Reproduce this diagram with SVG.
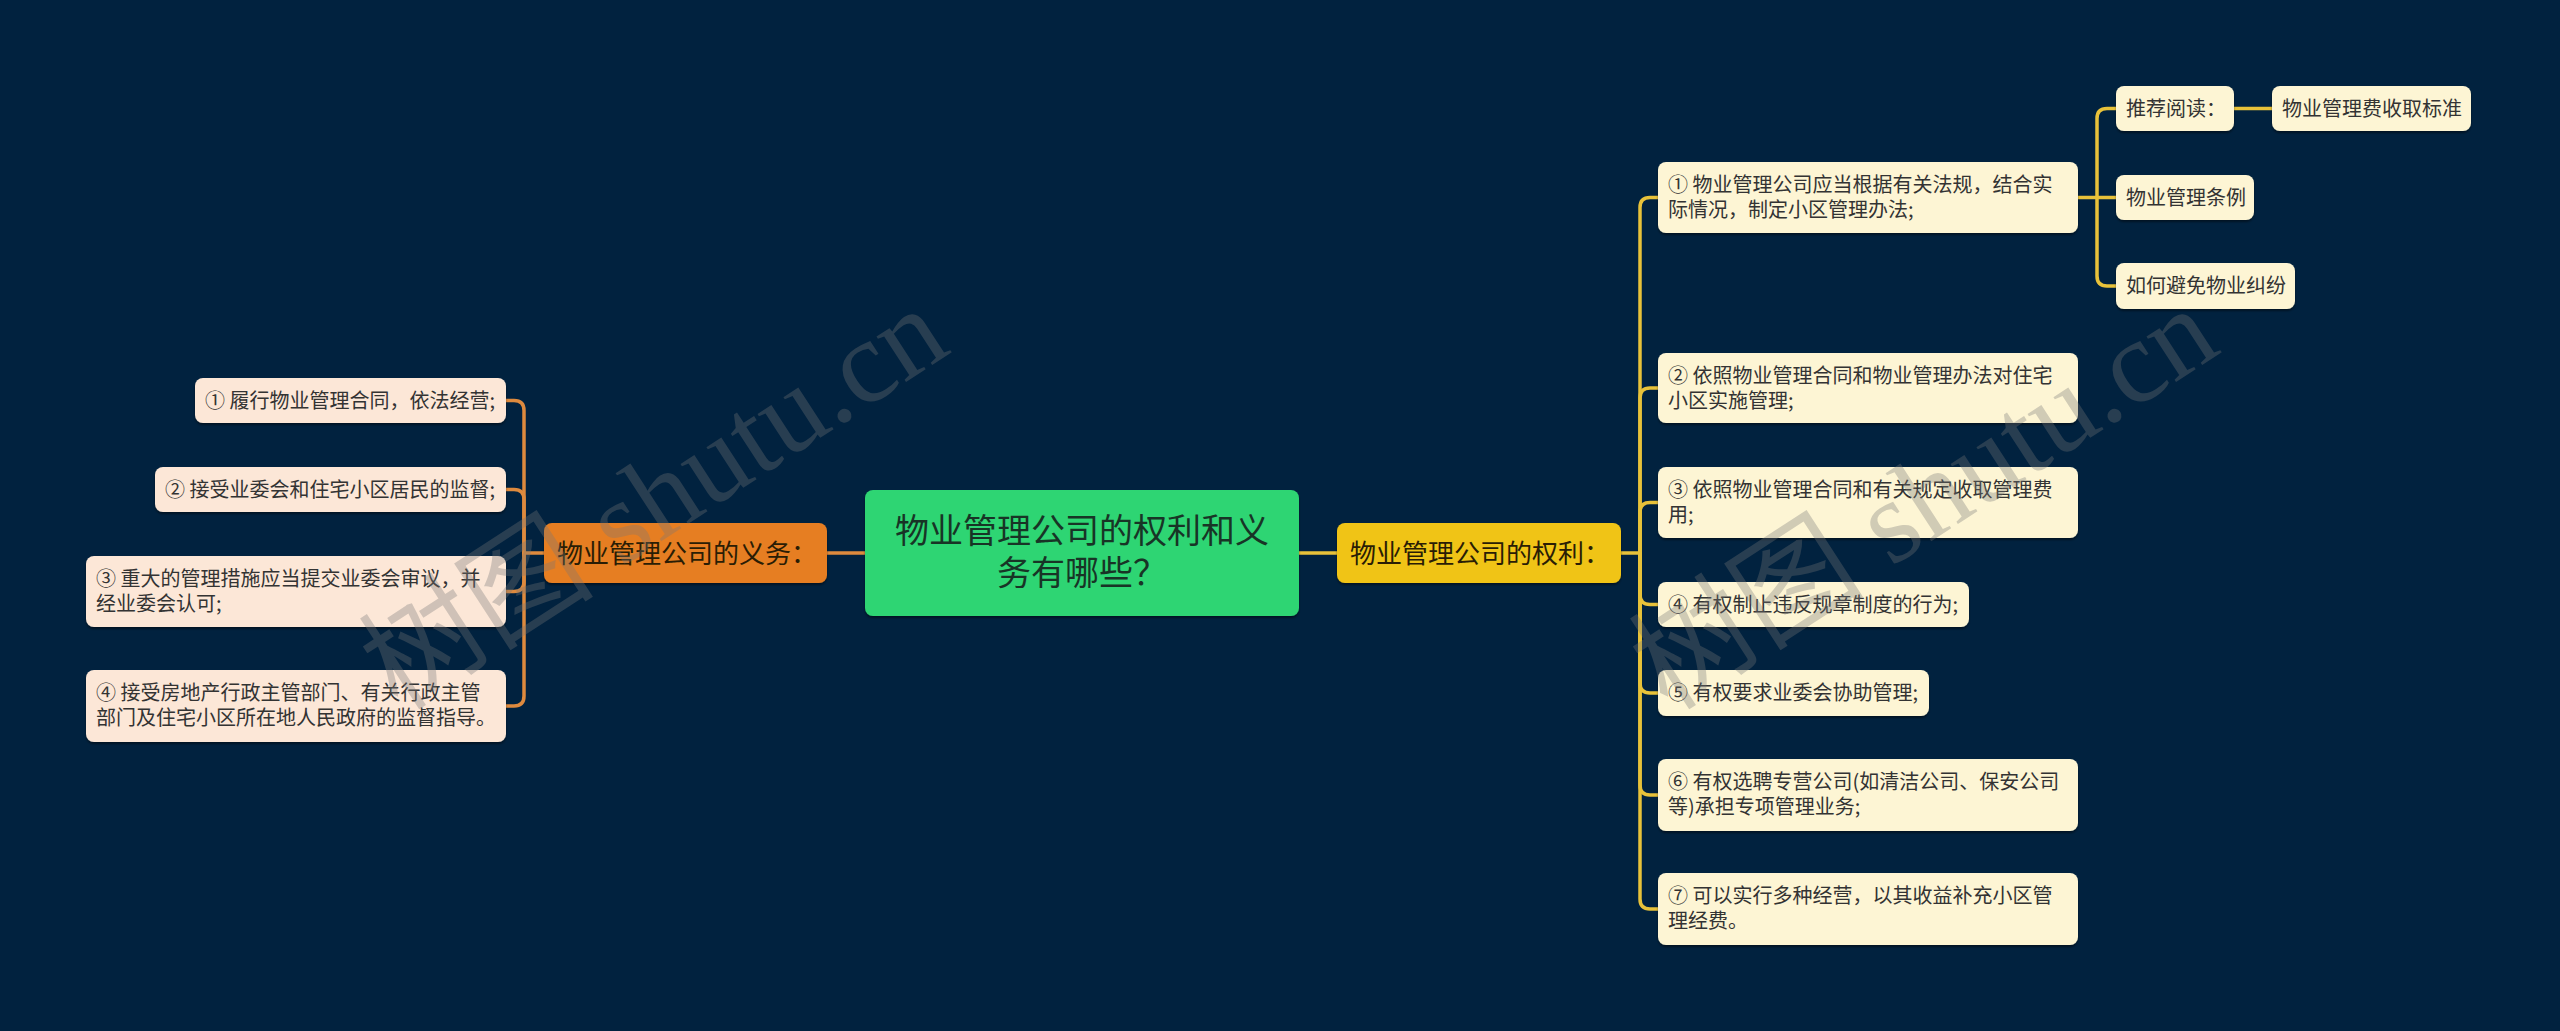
<svg xmlns="http://www.w3.org/2000/svg" width="2560" height="1031" viewBox="0 0 2560 1031">
<style>
.t{font-family:"Noto Sans CJK SC","Noto Sans",sans-serif;}
.leaf{font-size:20px;fill:#333333;}
.lr{fill:#FDF5D4;}
.ll{fill:#FCE7D7;}
.main{font-size:26px;fill:#2a1d05;}
.title{font-size:34px;fill:#183426;}
.cy{fill:none;stroke:#E8C23A;stroke-width:3.5;stroke-linecap:round;}
.co{fill:none;stroke:#DE8A3E;stroke-width:3.5;stroke-linecap:round;}
.wm{font-family:"Liberation Serif","Noto Sans CJK SC",serif;font-size:118px;fill:#777777;opacity:0.33;}
</style>
<defs>
<filter id="ds" x="-5%" y="-10%" width="110%" height="130%">
<feDropShadow dx="0" dy="2" stdDeviation="0.8" flood-color="#000" flood-opacity="0.45"/>
</filter>
</defs>
<rect width="2560" height="1031" fill="#01223F"/>

<g id="connectors">
<path class="co" d="M865 553 H827"/>
<path class="co" d="M544 553 H524"/>
<path class="co" d="M524 553 V410.5 Q524 400.5 514 400.5 H506"/>
<path class="co" d="M524 553 V499.5 Q524 489.5 514 489.5 H506"/>
<path class="co" d="M524 553 V581.5 Q524 591.5 514 591.5 H506"/>
<path class="co" d="M524 553 V696 Q524 706 514 706 H506"/>
<path class="cy" d="M1299 553 H1337"/>
<path class="cy" d="M1621 553 H1640"/>
<path class="cy" d="M1640 553 V207.5 Q1640 197.5 1650 197.5 H1658"/>
<path class="cy" d="M1640 553 V398 Q1640 388 1650 388 H1658"/>
<path class="cy" d="M1640 553 V512.5 Q1640 502.5 1650 502.5 H1658"/>
<path class="cy" d="M1640 553 V594.5 Q1640 604.5 1650 604.5 H1658"/>
<path class="cy" d="M1640 553 V683 Q1640 693 1650 693 H1658"/>
<path class="cy" d="M1640 553 V785 Q1640 795 1650 795 H1658"/>
<path class="cy" d="M1640 553 V899 Q1640 909 1650 909 H1658"/>
<path class="cy" d="M2078 197.5 H2097"/>
<path class="cy" d="M2097 197.5 V118.5 Q2097 108.5 2107 108.5 H2116"/>
<path class="cy" d="M2097 197.5 H2116"/>
<path class="cy" d="M2097 197.5 V276 Q2097 286 2107 286 H2116"/>
<path class="cy" d="M2234 108.5 H2272"/>
</g>

<g id="root">
<rect x="865" y="490" width="434" height="126" rx="8" fill="#2ED573" filter="url(#ds)"/>
<text class="t title" text-anchor="middle"><tspan x="1082" y="543">物业管理公司的权利和义</tspan><tspan x="1082" y="585">务有哪些？</tspan></text>
</g>

<g id="rights">
<rect x="1337" y="523" width="284" height="60" rx="8" fill="#F0C419" filter="url(#ds)"/>
<text class="t main" x="1350" y="563">物业管理公司的权利：</text>
</g>

<g id="duties">
<rect x="544" y="523" width="283" height="60" rx="8" fill="#E67E22" filter="url(#ds)"/>
<text class="t main" x="557" y="563">物业管理公司的义务：</text>
</g>

<g id="d1">
<rect class="ll" x="195" y="378" width="311" height="45" rx="8" filter="url(#ds)"/>
<text class="t leaf" x="205" y="408">① 履行物业管理合同，依法经营;</text>
</g>
<g id="d2">
<rect class="ll" x="155" y="467" width="351" height="45" rx="8" filter="url(#ds)"/>
<text class="t leaf" x="165" y="497">② 接受业委会和住宅小区居民的监督;</text>
</g>
<g id="d3">
<rect class="ll" x="86" y="556" width="420" height="71" rx="8" filter="url(#ds)"/>
<text class="t leaf"><tspan x="96" y="586">③ 重大的管理措施应当提交业委会审议，并</tspan><tspan x="96" y="611">经业委会认可;</tspan></text>
</g>
<g id="d4">
<rect class="ll" x="86" y="670" width="420" height="72" rx="8" filter="url(#ds)"/>
<text class="t leaf"><tspan x="96" y="700">④ 接受房地产行政主管部门、有关行政主管</tspan><tspan x="96" y="725">部门及住宅小区所在地人民政府的监督指导。</tspan></text>
</g>

<g id="r1">
<rect class="lr" x="1658" y="162" width="420" height="71" rx="8" filter="url(#ds)"/>
<text class="t leaf"><tspan x="1668" y="192">① 物业管理公司应当根据有关法规，结合实</tspan><tspan x="1668" y="217">际情况，制定小区管理办法;</tspan></text>
</g>
<g id="r1a">
<rect class="lr" x="2116" y="86" width="118" height="45" rx="8" filter="url(#ds)"/>
<text class="t leaf" x="2126" y="116">推荐阅读：</text>
</g>
<g id="r1a1">
<rect class="lr" x="2272" y="86" width="199" height="45" rx="8" filter="url(#ds)"/>
<text class="t leaf" x="2282" y="116">物业管理费收取标准</text>
</g>
<g id="r1b">
<rect class="lr" x="2116" y="175" width="138" height="45" rx="8" filter="url(#ds)"/>
<text class="t leaf" x="2126" y="205">物业管理条例</text>
</g>
<g id="r1c">
<rect class="lr" x="2116" y="263" width="179" height="46" rx="8" filter="url(#ds)"/>
<text class="t leaf" x="2126" y="293">如何避免物业纠纷</text>
</g>
<g id="r2">
<rect class="lr" x="1658" y="353" width="420" height="70" rx="8" filter="url(#ds)"/>
<text class="t leaf"><tspan x="1668" y="383">② 依照物业管理合同和物业管理办法对住宅</tspan><tspan x="1668" y="408">小区实施管理;</tspan></text>
</g>
<g id="r3">
<rect class="lr" x="1658" y="467" width="420" height="71" rx="8" filter="url(#ds)"/>
<text class="t leaf"><tspan x="1668" y="497">③ 依照物业管理合同和有关规定收取管理费</tspan><tspan x="1668" y="522">用;</tspan></text>
</g>
<g id="r4">
<rect class="lr" x="1658" y="582" width="311" height="45" rx="8" filter="url(#ds)"/>
<text class="t leaf" x="1668" y="612">④ 有权制止违反规章制度的行为;</text>
</g>
<g id="r5">
<rect class="lr" x="1658" y="670" width="271" height="46" rx="8" filter="url(#ds)"/>
<text class="t leaf" x="1668" y="700">⑤ 有权要求业委会协助管理;</text>
</g>
<g id="r6">
<rect class="lr" x="1658" y="759" width="420" height="72" rx="8" filter="url(#ds)"/>
<text class="t leaf"><tspan x="1668" y="789">⑥ 有权选聘专营公司(如清洁公司、保安公司</tspan><tspan x="1668" y="814">等)承担专项管理业务;</tspan></text>
</g>
<g id="r7">
<rect class="lr" x="1658" y="873" width="420" height="72" rx="8" filter="url(#ds)"/>
<text class="t leaf"><tspan x="1668" y="903">⑦ 可以实行多种经营，以其收益补充小区管</tspan><tspan x="1668" y="928">理经费。</tspan></text>
</g>

<g id="watermark">
<text class="wm" transform="translate(398 712) rotate(-33)">树图 shutu.cn</text>
<text class="wm" transform="translate(1668 712) rotate(-33)">树图 shutu.cn</text>
</g>
</svg>
